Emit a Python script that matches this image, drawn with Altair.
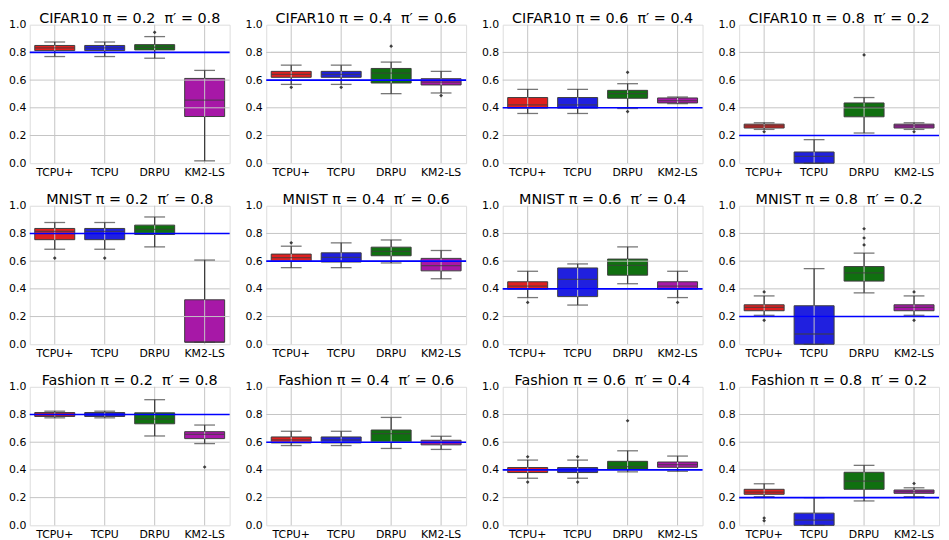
import altair as alt
import pandas as pd

DATASETS = ["CIFAR10", "MNIST", "Fashion"]
PIS = [0.2, 0.4, 0.6, 0.8]
PI_PRIMES = [0.8, 0.6, 0.4, 0.2]
METHODS = ["TCPU+", "TCPU", "DRPU", "KM2-LS"]
COLORS = ["#df2020", "#2020df", "#107010", "#a718a7"]
Y_TICKS = [0.0, 0.2, 0.4, 0.6, 0.8, 1.0]
GRID_Y = [0.2, 0.4, 0.6, 0.8]

# one row per panel (CIFAR10 0.2..0.8, MNIST 0.2..0.8, Fashion 0.2..0.8),
# values in METHODS order
LOWER = [
    [0.770, 0.770, 0.758, 0.017],
    [0.569, 0.569, 0.502, 0.507],
    [0.359, 0.359, 0.395, 0.430],
    [0.244, 0.000, 0.218, 0.244],
    [0.686, 0.686, 0.703, 0.015],
    [0.553, 0.553, 0.587, 0.473],
    [0.337, 0.283, 0.437, 0.337],
    [0.209, 0.000, 0.371, 0.209],
    [0.776, 0.776, 0.645, 0.590],
    [0.576, 0.576, 0.555, 0.548],
    [0.340, 0.340, 0.386, 0.390],
    [0.207, 0.000, 0.176, 0.207],
]
Q1 = [
    [0.813, 0.813, 0.818, 0.337],
    [0.620, 0.620, 0.579, 0.565],
    [0.397, 0.397, 0.469, 0.435],
    [0.254, 0.000, 0.335, 0.254],
    [0.755, 0.755, 0.793, 0.015],
    [0.599, 0.594, 0.639, 0.530],
    [0.397, 0.344, 0.499, 0.397],
    [0.242, 0.000, 0.456, 0.242],
    [0.786, 0.786, 0.733, 0.626],
    [0.595, 0.595, 0.600, 0.581],
    [0.381, 0.381, 0.405, 0.419],
    [0.224, 0.000, 0.260, 0.231],
]
MEDIAN = [
    [0.833, 0.833, 0.837, 0.455],
    [0.641, 0.641, 0.651, 0.586],
    [0.421, 0.421, 0.502, 0.452],
    [0.270, 0.050, 0.404, 0.270],
    [0.815, 0.815, 0.829, 0.015],
    [0.625, 0.627, 0.670, 0.568],
    [0.420, 0.468, 0.570, 0.420],
    [0.266, 0.074, 0.515, 0.266],
    [0.800, 0.800, 0.767, 0.657],
    [0.617, 0.617, 0.662, 0.598],
    [0.400, 0.400, 0.424, 0.438],
    [0.240, 0.038, 0.319, 0.243],
]
Q3 = [
    [0.850, 0.850, 0.856, 0.612],
    [0.663, 0.663, 0.684, 0.610],
    [0.474, 0.474, 0.526, 0.471],
    [0.282, 0.081, 0.435, 0.282],
    [0.836, 0.836, 0.860, 0.321],
    [0.651, 0.660, 0.701, 0.620],
    [0.451, 0.551, 0.615, 0.451],
    [0.285, 0.278, 0.561, 0.285],
    [0.814, 0.814, 0.812, 0.676],
    [0.638, 0.638, 0.688, 0.614],
    [0.417, 0.417, 0.462, 0.457],
    [0.260, 0.088, 0.383, 0.255],
]
UPPER = [
    [0.875, 0.875, 0.914, 0.670],
    [0.708, 0.708, 0.730, 0.663],
    [0.533, 0.533, 0.574, 0.478],
    [0.292, 0.170, 0.474, 0.292],
    [0.879, 0.879, 0.919, 0.608],
    [0.708, 0.732, 0.753, 0.677],
    [0.527, 0.580, 0.703, 0.527],
    [0.349, 0.546, 0.658, 0.349],
    [0.824, 0.824, 0.907, 0.724],
    [0.679, 0.679, 0.779, 0.643],
    [0.471, 0.471, 0.538, 0.500],
    [0.300, 0.200, 0.433, 0.271],
]
# outliers: (panel index, method, value)
OUTLIERS = [
    (0, "DRPU", 0.945),
    (1, "TCPU+", 0.548), (1, "TCPU", 0.548), (1, "DRPU", 0.845), (1, "KM2-LS", 0.488),
    (2, "DRPU", 0.656), (2, "DRPU", 0.373),
    (3, "TCPU+", 0.227), (3, "DRPU", 0.782), (3, "KM2-LS", 0.227),
    (4, "TCPU+", 0.622), (4, "TCPU", 0.622),
    (5, "TCPU+", 0.732),
    (6, "TCPU+", 0.302), (6, "KM2-LS", 0.302),
    (7, "TCPU+", 0.378), (7, "TCPU+", 0.173), (7, "DRPU", 0.834), (7, "DRPU", 0.767),
    (7, "DRPU", 0.717), (7, "KM2-LS", 0.378), (7, "KM2-LS", 0.173),
    (8, "KM2-LS", 0.421),
    (10, "TCPU+", 0.495), (10, "TCPU+", 0.312), (10, "TCPU", 0.495), (10, "TCPU", 0.312),
    (10, "DRPU", 0.755),
    (11, "TCPU+", 0.052), (11, "TCPU+", 0.033), (11, "KM2-LS", 0.302),
]

FONT = "DejaVu Sans"
EDGE = "#3d3d3d"
GRID = "#c4c4c4"
W, H = 202, 140

xscale = alt.Scale(domain=METHODS, paddingInner=0.2, paddingOuter=0.1)
yscale = alt.Scale(domain=[0, 1], nice=False, zero=False)
xaxis = alt.Axis(title=None, labelAngle=0, tickSize=0, domain=False, grid=False,
                 labelPadding=3, labelFontSize=11, labelFont=FONT, labelColor="black")
yaxis = alt.Axis(title=None, values=Y_TICKS, format=".1f", tickSize=0, domain=False,
                 grid=False, labelPadding=4, labelFontSize=11, labelFont=FONT,
                 labelColor="black", labelOverlap=False, labelBound=False, labelFlush=False)
color = alt.Color("method:N", scale=alt.Scale(domain=METHODS, range=COLORS), legend=None)


def X():
    return alt.X("method:N", sort=METHODS, scale=xscale, axis=xaxis)


def Y(field):
    return alt.Y(field, scale=yscale, axis=yaxis)


panels = []
for r, ds in enumerate(DATASETS):
    for c, pi in enumerate(PIS):
        k = r * 4 + c
        df = pd.DataFrame({
            "method": METHODS,
            "lo": LOWER[k], "q1": Q1[k], "med": MEDIAN[k], "q3": Q3[k], "hi": UPPER[k],
        })
        out = pd.DataFrame([{"method": m, "v": v} for (p, m, v) in OUTLIERS if p == k])
        if out.empty:
            out = pd.DataFrame({"method": [], "v": []})
        base = alt.Chart(df)

        boxes = base.mark_bar(stroke=EDGE, strokeWidth=1).encode(
            x=X(), y=Y("q1:Q"), y2="q3:Q", color=color)
        hgrid = alt.Chart(pd.DataFrame({"v": GRID_Y})).mark_rule(
            color=GRID, strokeWidth=1).encode(y=Y("v:Q"))
        vgrid = alt.Chart(pd.DataFrame({"method": METHODS})).mark_rule(
            color=GRID, strokeWidth=1).encode(x=X())
        wlo = base.mark_rule(color=EDGE, strokeWidth=1.3).encode(x=X(), y=Y("lo:Q"), y2="q1:Q")
        whi = base.mark_rule(color=EDGE, strokeWidth=1.3).encode(x=X(), y=Y("q3:Q"), y2="hi:Q")
        cap_lo = base.mark_tick(color=EDGE, size=21, thickness=1.3).encode(x=X(), y=Y("lo:Q"))
        cap_hi = base.mark_tick(color=EDGE, size=21, thickness=1.3).encode(x=X(), y=Y("hi:Q"))
        med = base.mark_tick(color=EDGE, size=40, thickness=1.3).encode(x=X(), y=Y("med:Q"))
        target = alt.Chart(pd.DataFrame({"v": [PI_PRIMES[c]]})).mark_rule(
            color="#0000ff", strokeWidth=1.6).encode(y=Y("v:Q"))
        pts = alt.Chart(out).mark_point(shape="diamond", filled=True, size=14,
                                        color=EDGE, opacity=1).encode(
            x=X(), y=Y("v:Q"))

        title = f"{ds} π = {pi}\u00a0\u00a0π\u2032 = {PI_PRIMES[c]}"
        layer = alt.layer(boxes, hgrid, vgrid, wlo, whi, cap_lo, cap_hi, med, target, pts).properties(
            width=W, height=H,
            title=alt.TitleParams(title, fontSize=14.5, font=FONT, fontWeight="normal",
                                  color="black", offset=-8))
        panels.append(layer)

chart = alt.concat(*panels, columns=4, spacing={"row": 14, "column": 13}).properties(
    padding={"left": 0, "top": 0, "right": 0, "bottom": 0}
).configure_view(
    stroke="black", strokeWidth=1.2
).configure(background="white")

chart.save("out.html", embed_options={"renderer": "svg", "actions": False})
